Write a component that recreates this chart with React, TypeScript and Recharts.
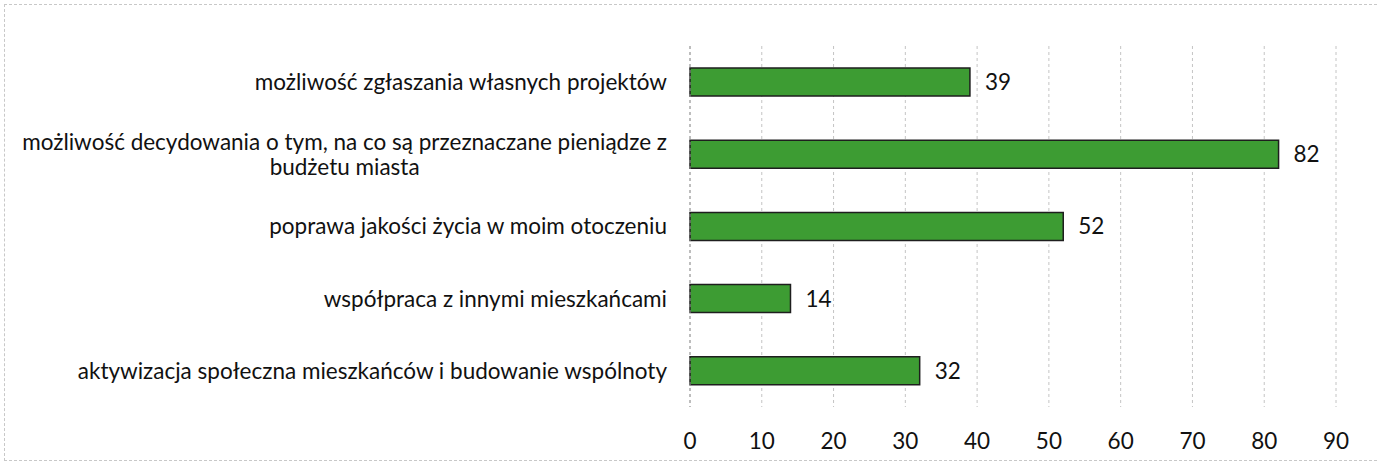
import { BarChart, Bar, XAxis, YAxis, CartesianGrid, LabelList } from 'recharts';

const categories = [
  'możliwość zgłaszania własnych projektów',
  'możliwość decydowania o tym, na co są przeznaczane pieniądze z budżetu miasta',
  'poprawa jakości życia w moim otoczeniu',
  'współpraca z innymi mieszkańcami',
  'aktywizacja społeczna mieszkańców i budowanie wspólnoty',
];
const values = [39, 82, 52, 14, 32];
const xTicks = [0, 10, 20, 30, 40, 50, 60, 70, 80, 90];

const data = categories.map((name, i) => ({ name, value: values[i] }));

const FONT = 'Lato, "Open Sans", sans-serif';
const FONT_SIZE = 22.5;

// measure label text with a temporary svg so wrapping uses the real font
function textWidth(s: string) {
  const ns = 'http://www.w3.org/2000/svg';
  const svg = document.createElementNS(ns, 'svg');
  svg.setAttribute('style', 'position:absolute;left:0;top:0;visibility:hidden');
  const t = document.createElementNS(ns, 'text');
  t.setAttribute('font-family', FONT);
  t.setAttribute('font-size', String(FONT_SIZE));
  t.textContent = s;
  svg.appendChild(t);
  document.body.appendChild(svg);
  const w = t.getComputedTextLength();
  document.body.removeChild(svg);
  return w;
}

function wrap(label: string, maxWidth: number) {
  const words = label.split(' ');
  const lines: string[] = [];
  let cur = '';
  for (const w of words) {
    const next = cur ? cur + ' ' + w : w;
    if (cur && textWidth(next) > maxWidth) {
      lines.push(cur);
      cur = w;
    } else {
      cur = next;
    }
  }
  if (cur) lines.push(cur);
  return lines;
}

function CategoryTick(props: any) {
  const { x, y, payload } = props;
  const lines = wrap(payload.value, 660);
  if (lines.length === 1) {
    return (
      <text x={x} y={y} dy="0.35em" textAnchor="end" fill="#111" fontSize={FONT_SIZE} fontFamily={FONT}>
        {lines[0]}
      </text>
    );
  }
  const widest = Math.max(...lines.map(textWidth));
  const cx = x - widest / 2;
  const lh = 25;
  const top = y - ((lines.length - 1) * lh) / 2;
  return (
    <g>
      {lines.map((l, i) => (
        <text key={i} x={cx} y={top + i * lh} dy="0.35em" textAnchor="middle" fill="#111" fontSize={FONT_SIZE} fontFamily={FONT}>
          {l}
        </text>
      ))}
    </g>
  );
}

export default function App() {
  return (
    <div style={{ position: 'absolute', left: 0, top: 0, width: 1378, height: 467, background: '#fff' }}>
      <div
        style={{
          position: 'absolute',
          left: 4,
          top: 4,
          width: 1372,
          height: 455,
          borderTop: '1px dashed #c8c8c8',
          borderLeft: '1px dashed #c8c8c8',
          borderBottom: '1px dashed #c8c8c8',
        }}
      />
      <BarChart
        width={1378}
        height={467}
        data={data}
        layout="vertical"
        margin={{ top: 46, right: 42, bottom: 20, left: 0 }}
        barCategoryGap={0}
        style={{ position: 'absolute', left: 0, top: 0 }}
      >
        <CartesianGrid horizontal={false} stroke="#c4c4c4" strokeDasharray="3 3" />
        <XAxis
          type="number"
          domain={[0, 90]}
          ticks={xTicks}
          axisLine={false}
          tickLine={false}
          tickSize={0}
          tickMargin={26}
          height={40}
          tick={{ fill: '#111', fontSize: FONT_SIZE, fontFamily: FONT }}
        />
        <YAxis
          type="category"
          dataKey="name"
          width={690}
          axisLine={{ stroke: '#999', strokeDasharray: '3 3' }}
          tickLine={false}
          tickSize={0}
          tickMargin={23}
          tick={<CategoryTick />}
          interval={0}
        />
        <Bar dataKey="value" fill="#3d9c33" stroke="#1e1e1e" strokeWidth={1.5} barSize={28} isAnimationActive={false}>
          <LabelList dataKey="value" position="right" offset={15} fill="#111" fontSize={FONT_SIZE} fontFamily={FONT} />
        </Bar>
      </BarChart>
    </div>
  );
}
